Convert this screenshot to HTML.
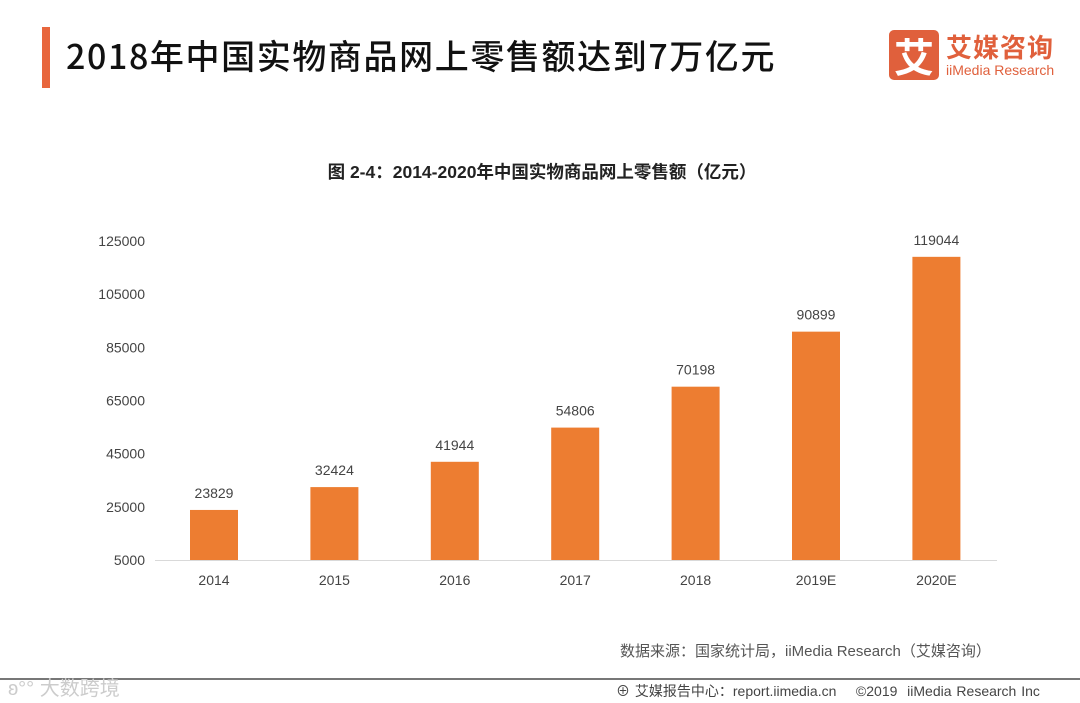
<!DOCTYPE html>
<html><head><meta charset="utf-8"><style>
body{margin:0;width:1080px;height:703px;background:#fff;overflow:hidden;position:relative;font-family:"Liberation Sans","Noto Sans CJK SC",sans-serif}
.abs{position:absolute}
</style></head><body>
<div class="abs" style="left:42px;top:27px;width:8px;height:61px;background:#e8663d"></div>
<div class="abs" style="left:66px;top:30px;font-size:34px;color:#111;font-family:'Noto Sans CJK SC',sans-serif;font-weight:500;letter-spacing:1.6px">2018年中国实物商品网上零售额达到7万亿元</div>
<div class="abs" style="left:889px;top:30px;width:50px;height:50px;background:#e0603c;border-radius:5px;color:#fff;font-size:40px;line-height:50px;text-align:center;font-family:'Noto Sans CJK SC',sans-serif;font-weight:bold">艾</div>
<div class="abs" style="left:946px;top:28px;font-size:26px;color:#e0603c;font-family:'Noto Sans CJK SC',sans-serif;font-weight:bold;letter-spacing:1px">艾媒咨询</div>
<div class="abs" style="left:946px;top:62px;font-size:14px;color:#e0603c">iiMedia Research</div>
<div class="abs" style="left:0;width:1080px;top:159px;text-align:center;font-size:17.5px;font-weight:bold;color:#222;padding-left:2px">图 2-4：2014-2020年中国实物商品网上零售额（亿元）</div>
<svg class="abs" style="left:0;top:0" width="1080" height="703" id="chart"></svg>
<div class="abs" style="left:620px;top:640px;font-size:15px;color:#555">数据来源：国家统计局，iiMedia Research（艾媒咨询）</div>
<div class="abs" style="left:0;top:678px;width:1080px;height:2px;background:#777"></div>
<div class="abs" style="left:8px;top:672px;font-size:20px;color:#ccc">ʚ°° 大数跨境</div>
<div class="abs" style="left:616px;top:681px;font-size:14px;color:#444;word-spacing:1px">⊕ 艾媒报告中心：report.iimedia.cn &nbsp;&nbsp; ©2019 &nbsp;iiMedia Research Inc</div>
<script>
const categories=["2014","2015","2016","2017","2018","2019E","2020E"];
const values=[23829,32424,41944,54806,70198,90899,119044];
const ticks=[5000,25000,45000,65000,85000,105000,125000];
const svg=document.getElementById('chart');
const NS='http://www.w3.org/2000/svg';
const y=v=>560-(v-5000)*(560-241)/120000;
const x=i=>214+i*120.4;
function mk(t,a,txt){const e=document.createElementNS(NS,t);for(const k in a)e.setAttribute(k,a[k]);if(txt!==undefined)e.textContent=txt;svg.appendChild(e);return e;}
ticks.forEach(t=>{
const e=mk('text',{x:145,y:y(t)+5,'text-anchor':'end','font-size':14,fill:'#444','font-family':'Liberation Sans'},t);


});
const ax=mk('line',{x1:155,x2:997,y1:560.5,y2:560.5,stroke:'#d9d9d9','stroke-width':1});


categories.forEach((c,i)=>{
const b=mk('rect',{x:x(i)-24,y:y(values[i]),width:48,height:560-y(values[i]),fill:'#ed7d31'});


const l=mk('text',{x:x(i),y:y(values[i])-12,'text-anchor':'middle','font-size':14,fill:'#444','font-family':'Liberation Sans'},values[i]);


const t=mk('text',{x:x(i),y:585,'text-anchor':'middle','font-size':14,fill:'#444','font-family':'Liberation Sans'},c);


});
</script>
</body></html>
